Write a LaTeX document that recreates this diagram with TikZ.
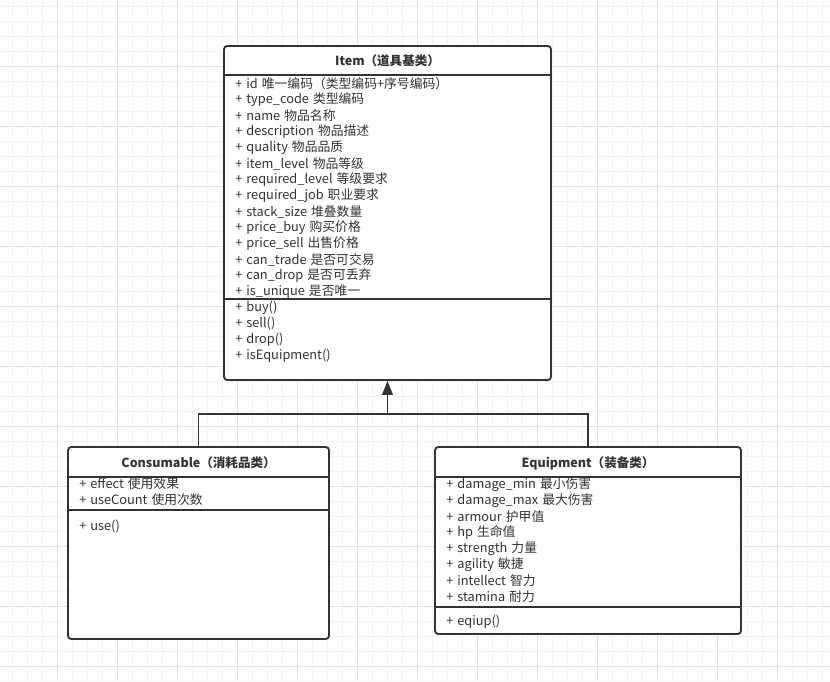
\documentclass[tikz,border=0pt]{standalone}
\usepackage{fontspec}
\setmainfont{Noto Sans CJK SC}[WordSpace={1.4}]
\usetikzlibrary{arrows.meta,fit}
\definecolor{ink}{HTML}{333333}
\definecolor{gridminor}{HTML}{F2F2F2}
\definecolor{gridmajor}{HTML}{E3E3E3}
\tikzset{
  classbox/.style={draw=ink, line width=1.4pt, rounded corners=2.5pt, inner sep=0pt, fill=white},
  sepline/.style={draw=ink, line width=1.4pt},
  attr/.style={anchor=west, inner sep=0pt, text=ink, font=\fontsize{9.6}{10}\selectfont},
  title/.style={inner sep=0pt, text=ink, font=\fontsize{9.4}{10}\selectfont\bfseries},
  conn/.style={draw=ink, line width=1.4pt},
  minorg/.style={draw=gridminor, line width=0.6pt},
  majorg/.style={draw=gridmajor, line width=0.7pt}
}
\begin{document}
\begin{tikzpicture}[x=0.75pt,y=-0.75pt]
\useasboundingbox (0,0) rectangle (830,681);
\fill[white] (0,0) rectangle (830,681);
% grid
\foreach \gx in {12,27,...,830} \draw[minorg] (\gx,0) -- (\gx,681);
\foreach \gy in {6,21,...,681} \draw[minorg] (0,\gy) -- (830,\gy);
\foreach \gx in {57,117,...,830} \draw[majorg] (\gx,0) -- (\gx,681);
\foreach \gy in {66,126,...,681} \draw[majorg] (0,\gy) -- (830,\gy);

% ---------- Item ----------
\node[classbox, fit={(224,46) (551,380)}] (item) {};
\draw[sepline] (item.west |- 0,75) -- (item.east |- 0,75);
\draw[sepline] (item.west |- 0,299) -- (item.east |- 0,299);
\node[title] (itemt) at (387.5,61) {Item（道具基类）};
\foreach \t [count=\n from 0] in {
  + id 唯一编码（类型编码+序号编码）,
  + type\_code 类型编码,
  + name 物品名称,
  + description 物品描述,
  + quality 物品品质,
  + item\_level 物品等级,
  + required\_level 等级要求,
  + required\_job 职业要求,
  + stack\_size 堆叠数量,
  + price\_buy 购买价格,
  + price\_sell 出售价格,
  + can\_trade 是否可交易,
  + can\_drop 是否可丢弃,
  + is\_unique 是否唯一}
  \node[attr] (ia\n) at (235,{84+16*\n}) {\t};
\foreach \t [count=\n from 0] in {+ buy(), + sell(), + drop(), + isEquipment()}
  \node[attr] (im\n) at (235,{308+16*\n}) {\t};

% ---------- Consumable ----------
\node[classbox, fit={(68,447) (329,639)}] (cons) {};
\draw[sepline] (cons.west |- 0,477) -- (cons.east |- 0,477);
\draw[sepline] (cons.west |- 0,510) -- (cons.east |- 0,510);
\node[title] (const) at (198.5,463) {Consumable（消耗品类）};
\node[attr] (ca0) at (79,484) {+ effect 使用效果};
\node[attr] (ca1) at (79,500) {+ useCount 使用次数};
\node[attr] (cm0) at (79,527) {+ use()};

% ---------- Equipment ----------
\node[classbox, fit={(435,447) (741,634)}] (equip) {};
\draw[sepline] (equip.west |- 0,477) -- (equip.east |- 0,477);
\draw[sepline] (equip.west |- 0,607) -- (equip.east |- 0,607);
\node[title] (equipt) at (588,463) {Equipment（装备类）};
\foreach \t [count=\n from 0] in {
  + damage\_min 最小伤害,
  + damage\_max 最大伤害,
  + armour 护甲值,
  + hp 生命值,
  + strength 力量,
  + agility 敏捷,
  + intellect 智力,
  + stamina 耐力}
  \node[attr] (ea\n) at (446,{485+16*\n}) {\t};
\node[attr] (em0) at (446,622) {+ eqiup()};

% ---------- connectors ----------
\coordinate (join) at (387.5,414);
\draw[conn] (cons.north) |- (join) -| (equip.north);
\draw[conn, -{Triangle[length=10.5pt,width=8pt]}] (join) -- (item.south);
\end{tikzpicture}
\end{document}
